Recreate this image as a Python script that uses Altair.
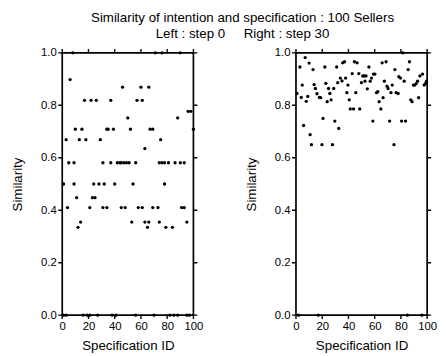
import altair as alt
import pandas as pd

# ---- Left panel (step 0): specification id and similarity ----
left_ids = [8, 71, 76, 90,
            6,
            46, 60, 66,
            17, 22, 26, 37, 57, 61,
            96, 98,
            50, 88,
            10, 15, 34, 35, 39, 52, 67, 69, 100,
            3, 13, 18, 29, 75,
            63,
            5, 9, 31, 37, 42, 44, 45, 47, 49, 51, 56, 74, 76, 78, 81, 86, 90, 93,
            1, 9, 24, 28, 32, 40, 54, 78,
            11, 23, 25,
            4, 21, 31, 34, 45, 48, 58, 61, 69, 73, 91, 93,
            14, 53, 63, 66, 74, 95,
            12, 65, 79, 84,
            1, 3, 16, 19, 21, 27, 38, 41, 56, 70, 82, 85, 88, 95, 97]
left_sim = [1.0, 1.0, 1.0, 1.0,
            0.898,
            0.869, 0.869, 0.869,
            0.819, 0.819, 0.819, 0.819, 0.819, 0.819,
            0.777, 0.777,
            0.752, 0.752,
            0.709, 0.709, 0.709, 0.709, 0.709, 0.709, 0.709, 0.709, 0.709,
            0.669, 0.669, 0.669, 0.669, 0.669,
            0.635,
            0.581, 0.581, 0.581, 0.581, 0.581, 0.581, 0.581, 0.581, 0.581,
            0.581, 0.581, 0.581, 0.581, 0.581, 0.581, 0.581, 0.581, 0.581,
            0.5, 0.5, 0.5, 0.5, 0.5, 0.5, 0.5, 0.5,
            0.448, 0.448, 0.448,
            0.41, 0.41, 0.41, 0.41, 0.41, 0.41, 0.41, 0.41, 0.41, 0.41, 0.41, 0.41,
            0.355, 0.355, 0.355, 0.355, 0.355, 0.355,
            0.335, 0.335, 0.335, 0.335,
            0.0, 0.0, 0.0, 0.0, 0.0, 0.0, 0.0, 0.0, 0.0, 0.0, 0.0, 0.0, 0.0, 0.0, 0.0]

# ---- Right panel (step 30) ----
right_ids = [7, 3, 10, 13, 22, 31, 35.6, 37, 44.6, 46.6, 55.6, 65.7, 68.7, 75.4, 81.5, 86.5, 85.5,
             4.8, 0.75, 4, 7.8, 9, 13.8, 14.8, 16, 17.8, 18.8, 22.8, 23.8, 24.8, 25.8, 26.8, 28.8,
             31.8, 33.8, 35.1, 37.8, 39.6, 38.8, 40.6, 41.4, 43.9, 42.9, 45.6, 47.9, 49.9, 50.9,
             52.1, 53.4, 52.6, 54.4, 48.6, 56.6, 57.6, 59.1, 60.2, 58.6, 61.4, 62.4, 63.4, 64.7,
             66.4, 67.4, 69.4, 70.2, 71.4, 72.4, 73.4, 74.7, 76.4, 77.9, 78.4, 79.7, 82.5, 80.5,
             83.5, 87.5, 88.5, 89.5, 90.5, 91.7, 92.7, 93.5, 94.5, 96.5, 97.7, 98.7, 99.5,
             20.6, 5.8, 29.6, 32.6, 10.8, 11.8, 19.8, 27.8,
             2, 17, 85, 96]
right_sim = [0.982, 0.946, 0.961, 0.936, 0.946, 0.946, 0.962, 0.966, 0.966, 0.962, 0.946, 0.962, 0.966, 0.936, 1.0, 0.966, 0.936,
             0.877, 0.845, 0.830, 0.815, 0.834, 0.879, 0.864, 0.844, 0.830, 0.829, 0.884, 0.814, 0.864, 0.845, 0.821, 0.864,
             0.886, 0.904, 0.893, 0.904, 0.877, 0.848, 0.821, 0.786, 0.786, 0.921, 0.848, 0.921, 0.886, 0.912,
             0.912, 0.912, 0.892, 0.863, 0.786, 0.892, 0.904, 0.919, 0.919, 0.740, 0.848, 0.852, 0.814, 0.786,
             0.829, 0.892, 0.873, 0.864, 0.740, 0.848, 0.877, 0.650, 0.848, 0.845, 0.909, 0.904, 0.892, 0.740,
             0.740, 0.821, 0.814, 0.877, 0.877, 0.883, 0.892, 0.829, 0.912, 0.919, 0.877, 0.883, 0.892,
             0.750, 0.723, 0.740, 0.712, 0.688, 0.650, 0.650, 0.650,
             0.0, 0.0, 0.0, 0.0]

x_ticks = [0, 20, 40, 60, 80, 100]
y_ticks = [0.0, 0.2, 0.4, 0.6, 0.8, 1.0]

FONT = "Liberation Sans"
W, H, TK = 133, 266, 4

X_AXIS = alt.Axis(orient="bottom", values=x_ticks, title="Specification ID",
                  titlePadding=6, labelFlush=False, labelOverlap=False,
                  labelPadding=2 + TK, domain=False, ticks=False, grid=False)
Y_AXIS = alt.Axis(orient="left", values=y_ticks, format=".1f", title="Similarity",
                  titlePadding=16, labelFlush=False, labelOverlap=False,
                  labelPadding=2 + TK, domain=False, ticks=False, grid=False)


def panel(ids, sims):
    df = pd.DataFrame({"id": ids, "sim": sims})
    xt = pd.DataFrame({"id": x_ticks})
    yt = pd.DataFrame({"sim": y_ticks})
    xs = alt.Scale(domain=[0, 100], nice=False, zero=False)
    ys = alt.Scale(domain=[0, 1], nice=False)
    pts = alt.Chart(df).mark_circle(size=11, color="black", opacity=1, clip=False).encode(
        x=alt.X("id:Q", scale=xs, axis=X_AXIS),
        y=alt.Y("sim:Q", scale=ys, axis=Y_AXIS),
    )
    tick_style = dict(fill="black", stroke="black", strokeWidth=1.4, opacity=1)
    bottom = alt.Chart(xt).mark_rect(**tick_style).encode(
        x=alt.X("id:Q", scale=xs, axis=X_AXIS), x2="id:Q",
        y=alt.value(H), y2=alt.value(H + TK))
    top = alt.Chart(xt).mark_rect(**tick_style).encode(
        x=alt.X("id:Q", scale=xs, axis=X_AXIS), x2="id:Q",
        y=alt.value(-TK), y2=alt.value(0))
    left = alt.Chart(yt).mark_rect(**tick_style).encode(
        y=alt.Y("sim:Q", scale=ys, axis=Y_AXIS), y2="sim:Q",
        x=alt.value(-TK), x2=alt.value(0))
    right = alt.Chart(yt).mark_rect(**tick_style).encode(
        y=alt.Y("sim:Q", scale=ys, axis=Y_AXIS), y2="sim:Q",
        x=alt.value(W), x2=alt.value(W + TK))
    return alt.layer(pts, bottom, top, left, right).properties(width=W, height=H)


chart = alt.hconcat(panel(left_ids, left_sim), panel(right_ids, right_sim), spacing=40).properties(
    title=alt.TitleParams(
        text=["Similarity of intention and specification : 100 Sellers",
              "Left : step 0\u00a0\u00a0\u00a0\u00a0\u00a0Right : step 30"],
        font=FONT, fontSize=13.5, fontWeight="normal", color="black",
        anchor="middle", lineHeight=16, offset=6, dx=19),
    padding={"left": 2, "top": 0, "right": 0, "bottom": 5},
).configure_view(stroke="black", strokeWidth=1.7).configure_axis(
    labelFont=FONT, titleFont=FONT, labelFontSize=11.5, titleFontSize=13.5,
    titleFontWeight="normal", labelColor="black", titleColor="black",
)

chart.save("out.html", embed_options={"renderer": "svg", "actions": False})
